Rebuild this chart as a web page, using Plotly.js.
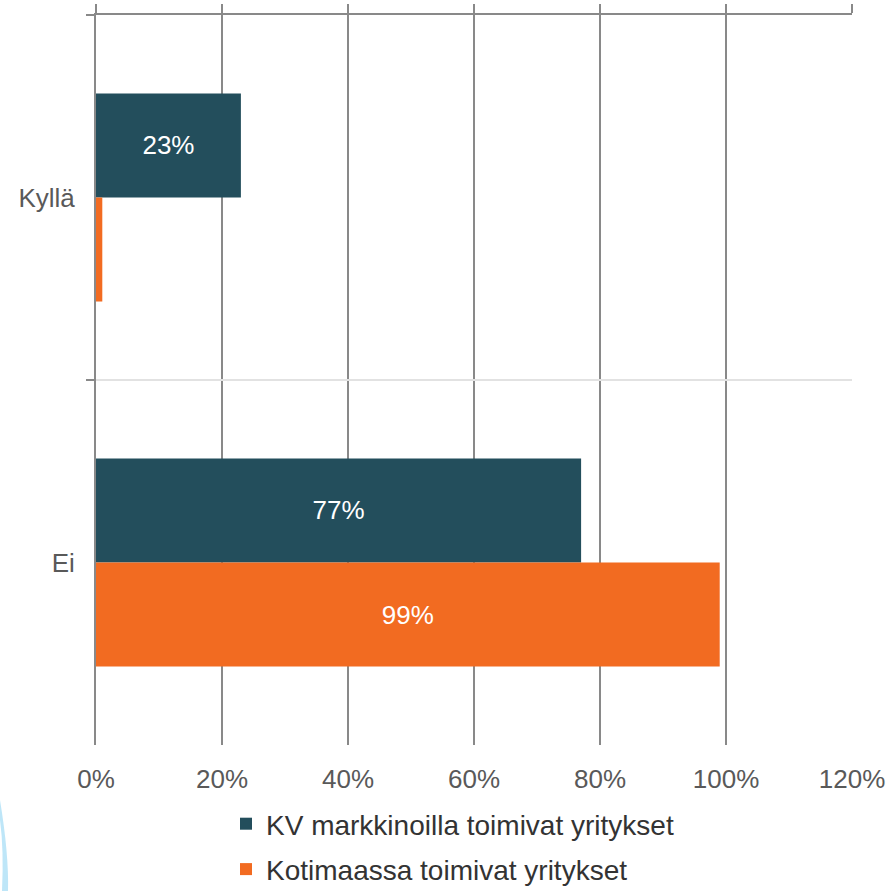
<!DOCTYPE html>
<html>
<head>
<meta charset="utf-8">
<script src="https://cdn.plot.ly/plotly-3.0.1.min.js"></script>
<style>html,body{margin:0;padding:0;background:#fff;}#chart{width:892px;height:891px;}</style>
</head>
<body>
<div id="chart"></div>
<script>
var categories = ["Kyllä", "Ei"];
var seriesNames = ["KV markkinoilla toimivat yritykset", "Kotimaassa toimivat yritykset"];
var kvValues = [23, 77];
var kotiValues = [1, 99];
var xTickVals = [0, 20, 40, 60, 80, 100, 120];
var xTickText = ["0%", "20%", "40%", "60%", "80%", "100%", "120%"];

var W = 892, H = 891, L = 96, R = 40, T = 15, B = 146;
function px(p){ return (p - L) / (W - L - R); }
function py(p){ return (H - B - p) / (H - T - B); }

var FONT = "Liberation Sans, Arial, sans-serif";

var common = {
  type: "bar", orientation: "h",
  texttemplate: "%{x}%", textposition: "inside", insidetextanchor: "middle",
  textfont: {family: FONT, size: 26, color: "#ffffff"},
  hoverinfo: "skip"
};

var traces = [
  Object.assign({}, common, {
    name: seriesNames[0], y: categories, x: kvValues,
    marker: {color: "#234E5C"}, legendgroup: "a"
  }),
  Object.assign({}, common, {
    name: seriesNames[1], y: categories, x: kotiValues,
    marker: {color: "#F26B21"}, legendgroup: "b"
  })
];

var layout = {
  width: W, height: H,
  margin: {l: L, r: R, t: T, b: B, autoexpand: false},
  paper_bgcolor: "#ffffff", plot_bgcolor: "#ffffff",
  font: {family: FONT, size: 26, color: "#595959"},
  barmode: "group", bargap: 0.43, bargroupgap: 0,
  uniformtext: {mode: "hide", minsize: 26},
  showlegend: true,
  legend: {
    orientation: "v", xref: "container", yref: "container",
    x: 226 / W, xanchor: "left", y: (H - 799) / H, yanchor: "top",
    font: {family: FONT, size: 28, color: "#333333"}, traceorder: "grouped", tracegroupgap: 6,
    itemwidth: 30, bgcolor: "rgba(0,0,0,0)"
  },
  xaxis: {
    range: [0, 120], tickvals: xTickVals, ticktext: xTickText,
    showgrid: true, gridcolor: "#898989", gridwidth: 2,
    zeroline: false, showline: false, ticks: "", ticklabelstandoff: 16,
    tickfont: {family: FONT, size: 26, color: "#595959"}, fixedrange: true
  },
  xaxis2: {
    range: [0, 120], overlaying: "x", side: "top", anchor: "y",
    tickvals: xTickVals, showticklabels: false,
    showline: true, linecolor: "#898989", linewidth: 2,
    ticks: "outside", ticklen: 9, tickwidth: 2, tickcolor: "#898989",
    showgrid: false, zeroline: false
  },
  yaxis: {
    type: "category", autorange: "reversed", tickson: "boundaries",
    ticks: "outside", ticklen: 8, tickwidth: 2, tickcolor: "#898989",
    showline: true, linecolor: "#898989", linewidth: 2,
    showgrid: true, gridcolor: "#e2e2e2", gridwidth: 2,
    tickfont: {family: FONT, size: 26, color: "#595959"}, ticklabelstandoff: 14
  },
  shapes: [{
    type: "path", xref: "paper", yref: "paper", layer: "below",
    path: "M " + px(0) + "," + py(800) + " Q " + px(9) + "," + py(855) + " " + px(8) + "," + py(891) +
          " L " + px(2) + "," + py(891) + " Q " + px(4) + "," + py(850) + " " + px(0) + "," + py(820) + " Z",
    fillcolor: "rgba(110,200,240,0.45)", line: {width: 0}
  }]
};

traces.push({type: "scatter", x: [0], y: ["Kyllä"], xaxis: "x2", yaxis: "y",
  mode: "markers", marker: {opacity: 0}, showlegend: false, hoverinfo: "skip"});

Plotly.newPlot("chart", traces, layout, {displayModeBar: false, staticPlot: true});
</script>
</body>
</html>
